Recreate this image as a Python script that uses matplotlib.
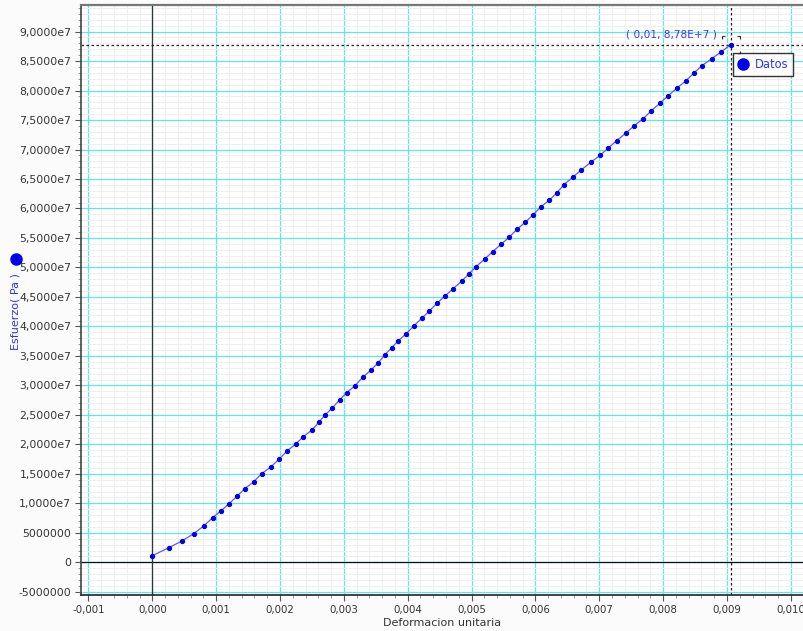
import numpy as np
import matplotlib
matplotlib.use("Agg")
import matplotlib.pyplot as plt
from matplotlib.lines import Line2D
from matplotlib.path import Path
from matplotlib.ticker import MultipleLocator, FuncFormatter

# strain (deformacion unitaria) and stress (Pa)
deformacion = [0.0, 0.00026, 0.00047, 0.000648, 0.000805, 0.000946, 0.001071, 0.001197,
               0.001331, 0.001447, 0.001588, 0.001713, 0.001859, 0.001984, 0.00211, 0.002246,
               0.002365, 0.002501, 0.002611, 0.002709, 0.002819, 0.002935, 0.003045, 0.003175,
               0.003295, 0.003421, 0.003535, 0.00364, 0.003749, 0.003853, 0.003978, 0.004099,
               0.004219, 0.004334, 0.004459, 0.004584, 0.00471, 0.00485, 0.00496, 0.00507,
               0.005206, 0.005331, 0.005461, 0.005591, 0.005712, 0.005842, 0.005967, 0.006088,
               0.006218, 0.006334, 0.006448, 0.006584, 0.006714, 0.006866, 0.007016, 0.007142,
               0.007273, 0.007419, 0.007549, 0.00769, 0.007815, 0.007951, 0.008076, 0.008213,
               0.008354, 0.008484, 0.008609, 0.008761, 0.008907, 0.00906]
esfuerzo = [1.12e6, 2.48e6, 3.66e6, 4.85e6, 6.16e6, 7.56e6, 8.70e6, 9.89e6,
            11.24e6, 12.48e6, 13.67e6, 15.03e6, 16.21e6, 17.47e6, 18.88e6, 20.06e6,
            21.30e6, 22.44e6, 23.80e6, 25.03e6, 26.17e6, 27.58e6, 28.77e6, 29.95e6,
            31.38e6, 32.56e6, 33.80e6, 35.16e6, 36.40e6, 37.58e6, 38.77e6, 40.13e6,
            41.38e6, 42.57e6, 43.93e6, 45.17e6, 46.40e6, 47.71e6, 48.95e6, 50.14e6,
            51.44e6, 52.68e6, 53.93e6, 55.17e6, 56.48e6, 57.67e6, 58.96e6, 60.31e6,
            61.40e6, 62.64e6, 64.04e6, 65.30e6, 66.49e6, 67.84e6, 69.03e6, 70.27e6,
            71.51e6, 72.81e6, 74.05e6, 75.24e6, 76.59e6, 77.85e6, 79.09e6, 80.39e6,
            81.63e6, 82.99e6, 84.23e6, 85.41e6, 86.55e6, 87.8e6]

serie = "Datos"
x_label = "Deformacion unitaria"
y_label = "Esfuerzo( Pa )"
punto_label = "( 0,01, 8,78E+7 )"

plt.rcParams['font.family'] = ['DejaVu Sans']

fig = plt.figure(figsize=(8.04, 6.31), dpi=100)
fig.patch.set_facecolor('#fbfbfb')
ax = fig.add_axes([0.1007, 0.057, 0.898, 0.935])
ax.set_facecolor('white')

# grid: light gray minor, cyan major
ax.xaxis.set_major_locator(MultipleLocator(0.001))
ax.xaxis.set_minor_locator(MultipleLocator(0.0002))
ax.yaxis.set_major_locator(MultipleLocator(5e6))
ax.yaxis.set_minor_locator(MultipleLocator(1e6))
ax.grid(which='minor', color='#efefef', lw=0.8, zorder=0)
ax.grid(which='major', color='#5fe4f0', lw=0.9, zorder=0)
ax.set_axisbelow(True)

# zero lines
ax.axhline(0, color='#111111', lw=0.9, zorder=1)
ax.axvline(0, color='#333333', lw=0.9, zorder=1)

ax.plot(deformacion, esfuerzo, color='#5a5aff', lw=0.9, marker='o', ms=2.8,
        mfc='#0000ee', mec='#0000ee', zorder=3)

# crosshair on last point
xl, yl = deformacion[-1], esfuerzo[-1]
ax.axhline(yl, color='#222222', lw=0.9, ls=(0, (2, 2)), zorder=2)
ax.axvline(xl, color='#222222', lw=0.9, ls=(0, (2, 2)), zorder=2)
ax.annotate(punto_label, (xl, yl), xytext=(-10, 4), textcoords='offset points',
            ha='right', va='bottom', color='#3a3aee', fontsize=7.6)

# selection brackets around the last point (custom marker)
a = 0.35
verts = [(-1 + a, 1), (-1, 1), (-1, 1 - a),
         (1 - a, 1), (1, 1), (1, 1 - a),
         (1, -1 + a), (1, -1), (1 - a, -1)]
codes = [Path.MOVETO, Path.LINETO, Path.LINETO] * 3
bracket = Path(verts, codes)
ax.plot([xl], [yl], marker=bracket, ms=13, mfc='none', mec='#333333', mew=0.8,
        ls='none', clip_on=False, zorder=4)

ax.set_xlim(-0.001117, 0.01019)
ax.set_ylim(-5.55e6, 94.5e6)


def fmt_y(v, pos):
    if abs(v) >= 1e7:
        return f"{v / 1e7:.4f}e7".replace('.', ',')
    return f"{v:.0f}"


def fmt_x(v, pos):
    return f"{v:.3f}".replace('.', ',').replace('-0,000', '0,000')


ax.yaxis.set_major_formatter(FuncFormatter(fmt_y))
ax.xaxis.set_major_formatter(FuncFormatter(fmt_x))
ax.tick_params(which='major', length=4, color='#555555', labelsize=7.8, labelcolor='#333333', pad=3)
ax.tick_params(axis='x', which='major', labelsize=7.4)
ax.tick_params(which='minor', length=2, color='#888888')

for s in ['top', 'right']:
    ax.spines[s].set_visible(False)
ax.spines['left'].set_color('#444444')
ax.spines['bottom'].set_color('#222222')
ax.spines['left'].set_linewidth(1.2)
ax.spines['bottom'].set_linewidth(1.2)
# frame top edge
fig.add_artist(Line2D([0.1007, 1.0], [0.992, 0.992], transform=fig.transFigure,
                      color='#777777', lw=1.6))

ax.set_xlabel(x_label, fontsize=8, color='#333333', labelpad=2)
fig.text(16 / 804, 1 - 312 / 631, y_label, rotation=90, color='#3333ee', fontsize=8,
         ha='center', va='center')
fig.add_artist(Line2D([16 / 804], [1 - 259 / 631], transform=fig.transFigure, marker='o',
                      ms=8, color='#0000ee', ls='none'))

handle = Line2D([], [], marker='o', ls='none', ms=8, color='#0000ee')
leg = ax.legend([handle], [serie], loc='upper right', bbox_to_anchor=(0.986, 0.918),
                frameon=True, fancybox=False, fontsize=8.3, handletextpad=0.5,
                borderpad=0.4, handlelength=1.0, borderaxespad=0)
leg.get_frame().set_edgecolor('black')
leg.get_frame().set_linewidth(1.0)
for t in leg.get_texts():
    t.set_color('#3333ee')

fig.savefig('out.png', dpi=100, facecolor=fig.get_facecolor())
